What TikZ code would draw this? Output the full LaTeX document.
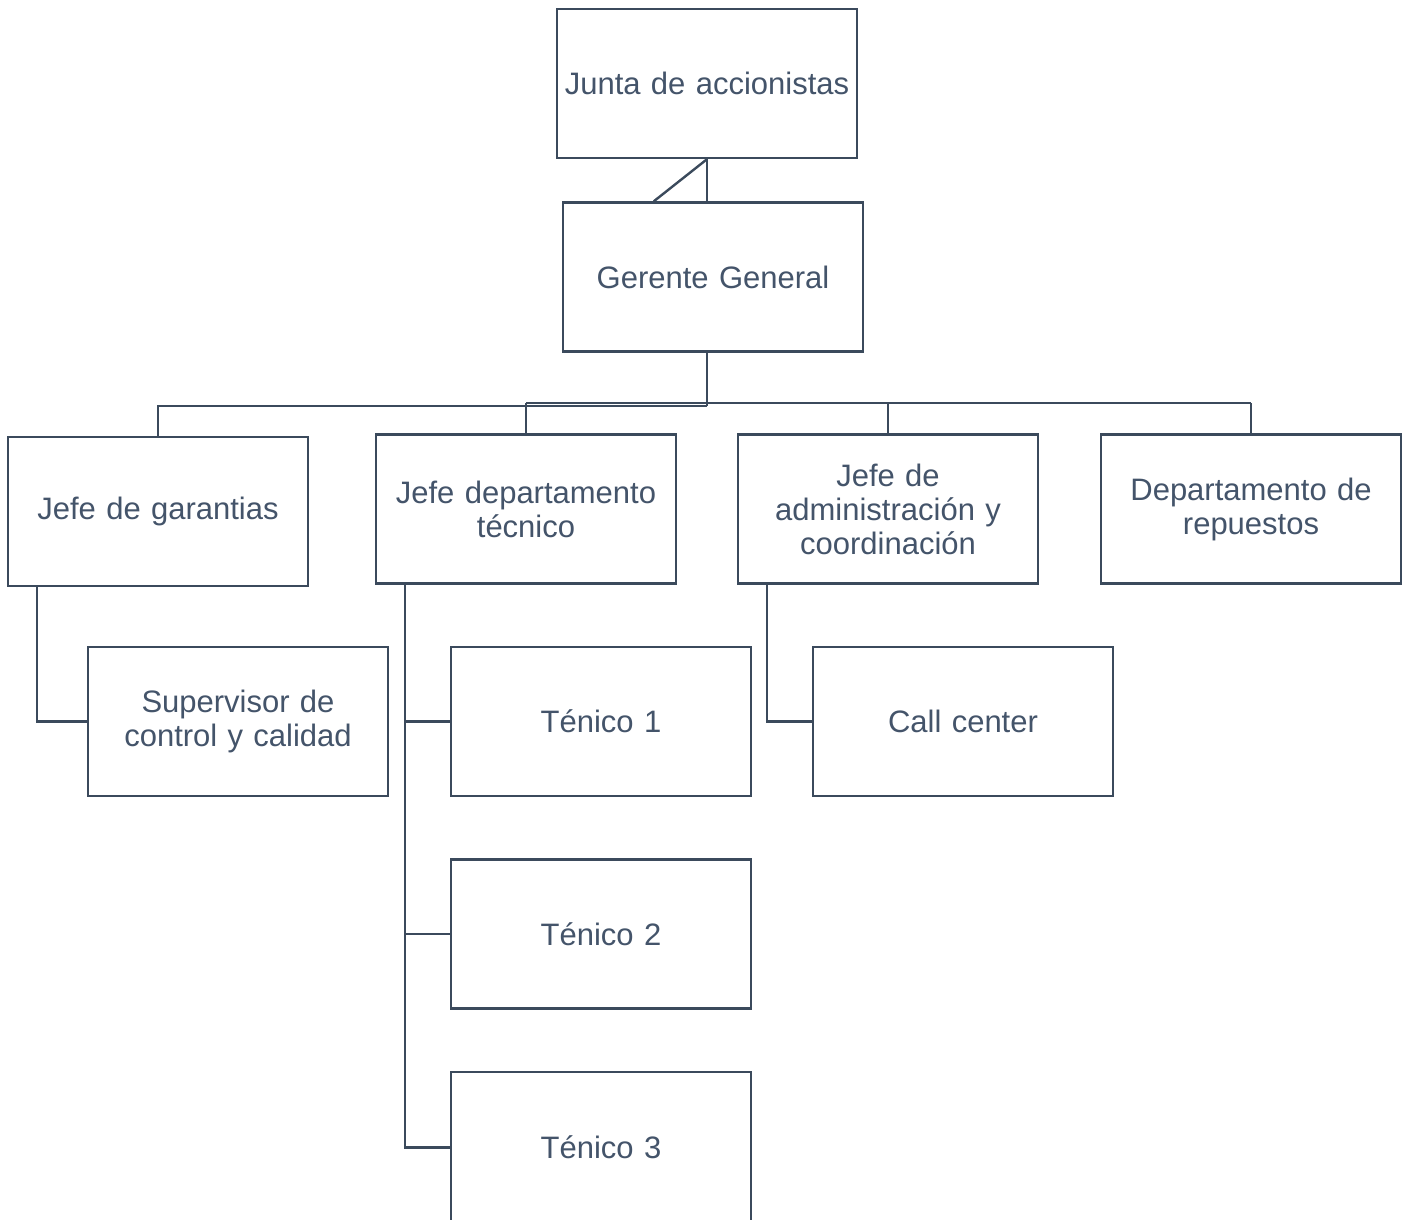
\documentclass[tikz,border=0pt]{standalone}
\usepackage{fontspec}
\setmainfont{Liberation Sans}
\usetikzlibrary{calc}
\definecolor{txt}{HTML}{44546A}
\definecolor{ln}{HTML}{3B4A5C}
\begin{document}
\begin{tikzpicture}[x=1pt,y=-1pt,
  box/.style={draw=ln, line width=2.4pt, fill=white, minimum width=300pt, minimum height=149pt,
    inner sep=0pt, align=center, text=txt, font=\fontsize{31}{34}\selectfont, text width=290pt},
  conn/.style={draw=ln, line width=2.4pt}]
\useasboundingbox (0,0) rectangle (1408,1220);
\node[box] (junta) at (707,83.5) {Junta de accionistas};
\node[box] (gerente) at (713,277) {Gerente General};
\node[box] (garantias) at (158,511.5) {Jefe de garantias};
\node[box] (tecnico) at (526,509) {Jefe departamento\\técnico};
\node[box] (admin) at (888,509) {Jefe de\\administración y\\coordinación};
\node[box] (repuestos) at (1251,509) {Departamento de\\repuestos};
\node[box] (supervisor) at (238,721.5) {Supervisor de\\control y calidad};
\node[box] (t1) at (601,721.5) {Ténico 1};
\node[box] (t2) at (601,934) {Ténico 2};
\node[box, minimum height=151pt] (t3) at (601,1147.5) {Ténico 3};
\node[box] (call) at (963,721.5) {Call center};
% top connectors
\draw[conn] (junta.south) -- (junta.south |- gerente.north);
\draw[conn] (junta.south) -- ([xshift=92pt]gerente.north west);
% bus
\coordinate (gs) at ([xshift=-6pt]gerente.south);
\coordinate (busR) at ($(gs)+(0,50.5)$);
\coordinate (busL) at ($(gs)+(0,53.5)$);
\draw[conn] (gs) -- (busL);
\draw[conn] (busL) -| (garantias.north);
\draw[conn] (busR -| tecnico.north) -- (busR -| repuestos.north);
\draw[conn] (busR -| tecnico.north) -- (tecnico.north);
\draw[conn] (busR -| admin.north) -- (admin.north);
\draw[conn] (busR -| repuestos.north) -- (repuestos.north);
% children
\draw[conn] ([xshift=30pt]garantias.south west) |- (supervisor.west);
\draw[conn] ([xshift=30pt]tecnico.south west) |- (t3.west);
\draw[conn] ([xshift=30pt]tecnico.south west |- t1.west) -- (t1.west);
\draw[conn] ([xshift=30pt]tecnico.south west |- t2.west) -- (t2.west);
\draw[conn] ([xshift=30pt]admin.south west) |- (call.west);
\end{tikzpicture}
\end{document}
